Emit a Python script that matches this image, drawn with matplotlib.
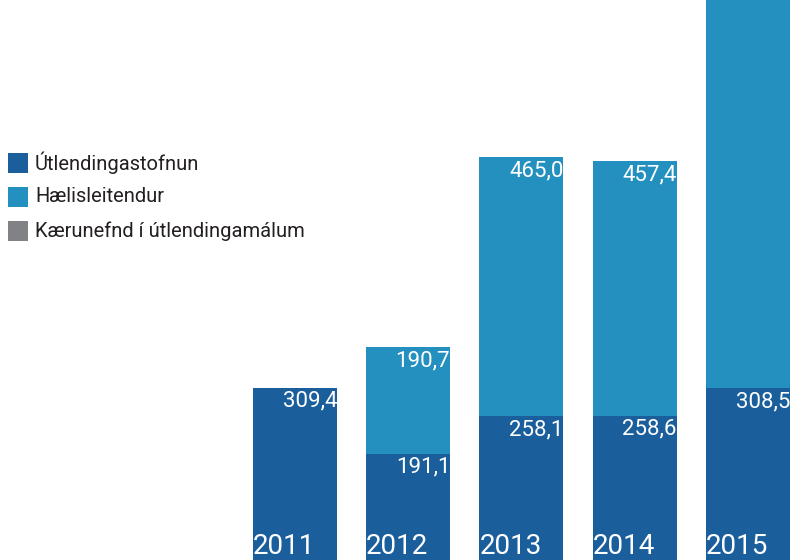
import matplotlib
matplotlib.use("Agg")
import matplotlib.pyplot as plt
from matplotlib.patches import Rectangle

years = ["2011", "2012", "2013", "2014", "2015"]
utlendingastofnun = [309.4, 191.1, 258.1, 258.6, 308.5]
haelisleitendur = [0.0, 190.7, 465.0, 457.4, 780.0]
kaerunefnd = [0.0, 0.0, 0.0, 0.0, 0.0]

series_names = ["Útlendingastofnun", "Hælisleitendur", "Kærunefnd í útlendingamálum"]
colors = ["#1a5f9c", "#2490bf", "#808285"]

plt.rcParams["font.family"] = ["Roboto", "DejaVu Sans"]

fig = plt.figure(figsize=(7.91, 5.6), dpi=100)
ax = fig.add_axes([0, 0, 1, 1])
ax.set_xlim(-2.605, 4.38)
ax.set_ylim(0, 1006)
ax.axis("off")

x = list(range(len(years)))
w = 0.742
bottoms = [0.0] * len(years)
for vals, col in zip([utlendingastofnun, haelisleitendur, kaerunefnd], colors):
    ax.bar(x, vals, width=w, bottom=bottoms, color=col, linewidth=0)
    for xi, v, b in zip(x, vals, bottoms):
        if v > 0:
            ax.annotate(f"{v:.1f}".replace(".", ","), (xi + w / 2, b + v),
                        xytext=(0, -2), textcoords="offset points",
                        ha="right", va="top", color="white", fontsize=16)
    bottoms = [b + v for b, v in zip(bottoms, vals)]

# year labels sit at the foot of each bar
for xi, yr in zip(x, years):
    ax.annotate(yr, (xi - w / 2, 0), xytext=(0, 0), textcoords="offset points",
                ha="left", va="bottom", color="white", fontsize=20)

# legend drawn by hand in pixel space
for i, (name, col) in enumerate(zip(series_names, colors)):
    yc = 560 - (163 + 34 * i)
    fig.patches.append(Rectangle((8 / 791, (yc - 10) / 560), 20 / 791, 20 / 560,
                                 transform=fig.transFigure, color=col, linewidth=0))
    fig.text(35 / 791, yc / 560, name, ha="left", va="center",
             fontsize=14.5, color="#231f20")

fig.savefig("out.png", dpi=100)
